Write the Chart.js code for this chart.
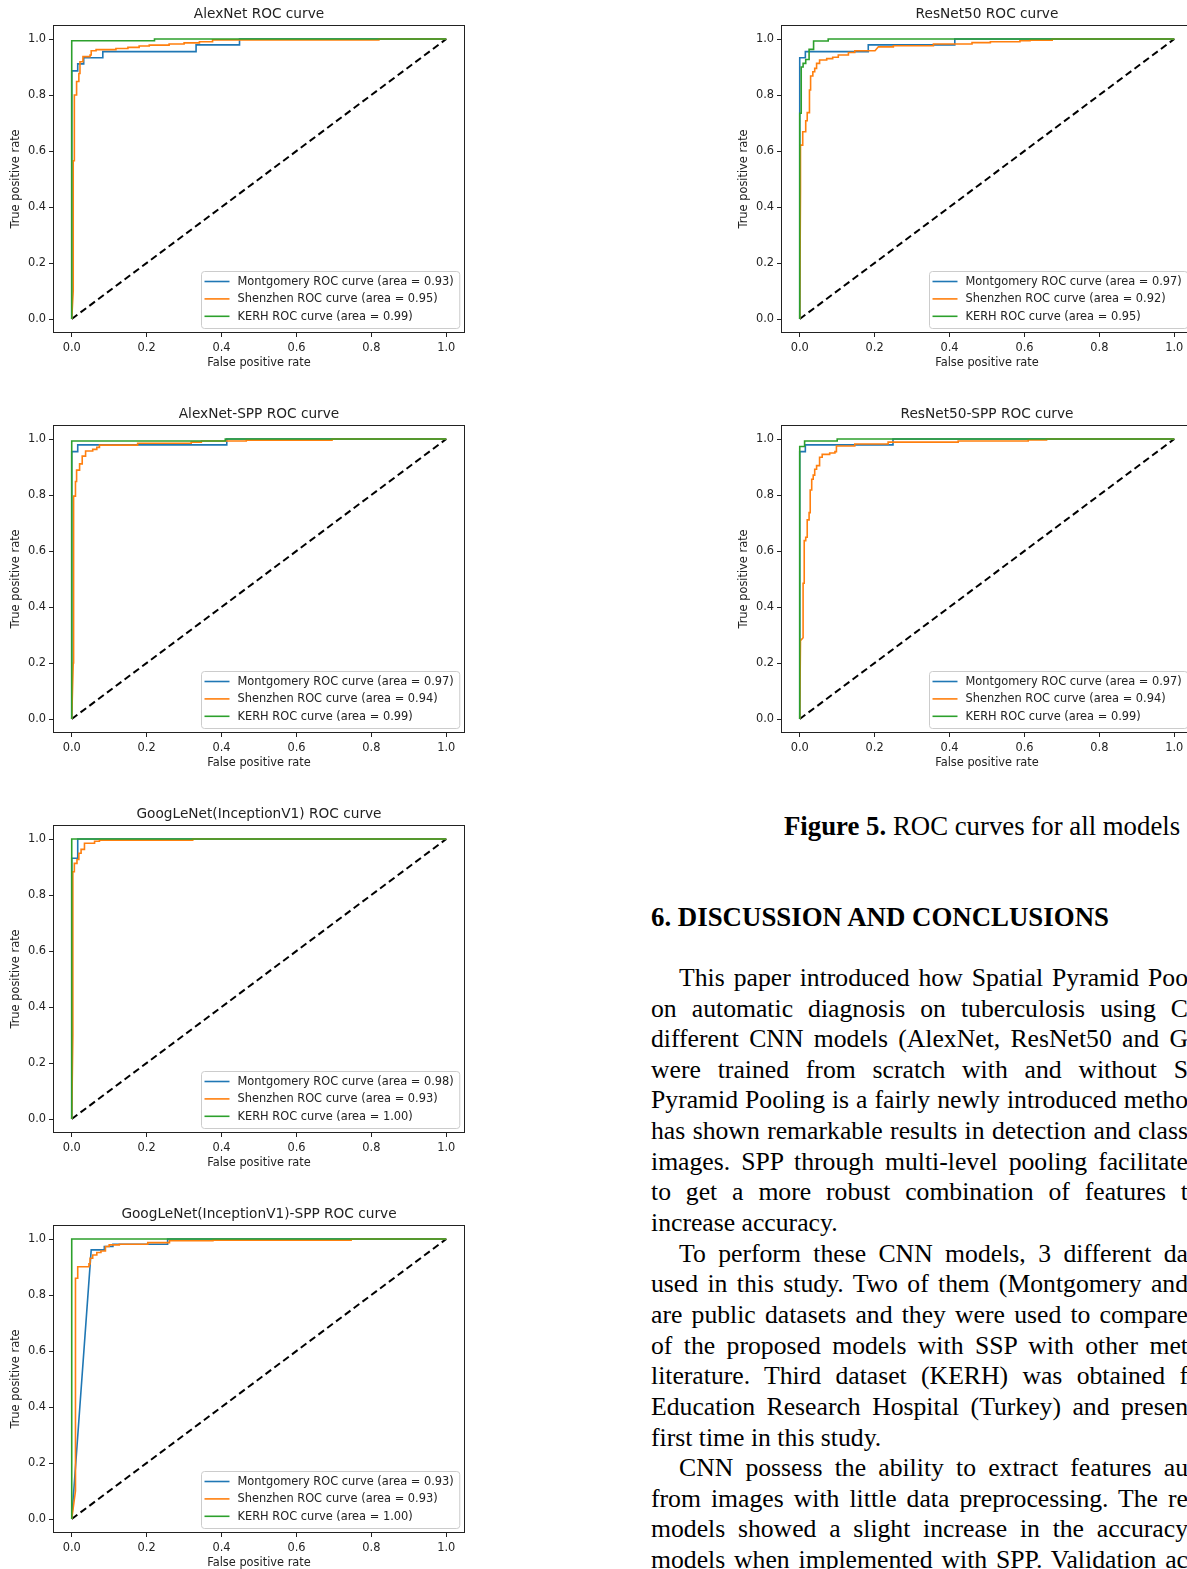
<!DOCTYPE html>
<html>
<head>
<meta charset="utf-8">
<title>ROC curves for all models</title>
<script src="https://cdn.jsdelivr.net/npm/chart.js@4.4.0/dist/chart.umd.min.js"></script>
<style>
  html, body { margin: 0; padding: 0; background: #fff; }
  body { width: 1187px; height: 1569px; overflow: hidden; position: relative; }
  canvas.roc { position: absolute; }
  .serif { position: absolute; font-family: "Liberation Serif", "Times New Roman", serif; color: #000; line-height: 30.65px; white-space: nowrap; }
  #caption { left: 784px; top: 810.8px; font-size: 26.8px; }
  #heading { left: 651px; top: 902px; font-size: 26.85px; font-weight: bold; }
  #body-text { left: 651px; top: 962.9px; font-size: 25.7px; }
  #body-text .ln { height: 30.65px; }
  #body-text .ind { padding-left: 28px; }
</style>
</head>
<body>

<canvas id="c-alexnet" class="roc" width="470" height="375"></canvas>
<canvas id="c-resnet" class="roc" width="470" height="375"></canvas>
<canvas id="c-alexnet-spp" class="roc" width="470" height="375"></canvas>
<canvas id="c-resnet-spp" class="roc" width="470" height="375"></canvas>
<canvas id="c-googlenet" class="roc" width="470" height="375"></canvas>
<canvas id="c-googlenet-spp" class="roc" width="470" height="375"></canvas>

<div id="caption" class="serif"><b>Figure 5.</b> ROC curves for all models</div>
<div id="heading" class="serif">6. DISCUSSION AND CONCLUSIONS</div>

<div id="body-text" class="serif">
  <div class="ln ind j"><span>This paper introduced how Spatial Pyramid Poo</span></div>
  <div class="ln j"><span>on automatic diagnosis on tuberculosis using C</span></div>
  <div class="ln j"><span>different CNN models (AlexNet, ResNet50 and G</span></div>
  <div class="ln j"><span>were trained from scratch with and without S</span></div>
  <div class="ln j"><span>Pyramid Pooling is a fairly newly introduced metho</span></div>
  <div class="ln j"><span>has shown remarkable results in detection and class</span></div>
  <div class="ln j"><span>images. SPP through multi-level pooling facilitate</span></div>
  <div class="ln j"><span>to get a more robust combination of features t</span></div>
  <div class="ln"><span>increase accuracy.</span></div>
  <div class="ln ind j"><span>To perform these CNN models, 3 different da</span></div>
  <div class="ln j"><span>used in this study. Two of them (Montgomery and</span></div>
  <div class="ln j"><span>are public datasets and they were used to compare</span></div>
  <div class="ln j"><span>of the proposed models with SSP with other met</span></div>
  <div class="ln j"><span>literature. Third dataset (KERH) was obtained f</span></div>
  <div class="ln j"><span>Education Research Hospital (Turkey) and presen</span></div>
  <div class="ln"><span>first time in this study.</span></div>
  <div class="ln ind j"><span>CNN possess the ability to extract features au</span></div>
  <div class="ln j"><span>from images with little data preprocessing. The re</span></div>
  <div class="ln j"><span>models showed a slight increase in the accuracy</span></div>
  <div class="ln j"><span>models when implemented with SPP. Validation ac</span></div>
</div>

<script>
// ---- data ----
const tickValues = [0, 0.2, 0.4, 0.6, 0.8, 1.0];
const datasetNames = ['Montgomery', 'Shenzhen', 'KERH'];
const diagonalFpr = [0, 1];
const diagonalTpr = [0, 1];

// AlexNet
const alexnetMontgomeryFpr = [0, 0, 0.016, 0.016, 0.032, 0.032, 0.083, 0.083, 0.332, 0.332, 0.448, 0.448, 1];
const alexnetMontgomeryTpr = [0, 0.886, 0.886, 0.911, 0.911, 0.933, 0.933, 0.955, 0.955, 0.979, 0.979, 1, 1];
const alexnetShenzhenFpr = [0, 0.004, 0.004, 0.007, 0.007, 0.013, 0.013, 0.019, 0.019, 0.022, 0.022, 0.03, 0.03, 0.049, 0.049, 0.052, 0.052, 0.065, 0.065, 0.118, 0.118, 0.15, 0.15, 0.18, 0.18, 0.207, 0.207, 0.26, 0.26, 0.3, 0.3, 0.341, 0.341, 0.376, 0.376, 0.82, 0.82, 1];
const alexnetShenzhenTpr = [0, 0.1, 0.565, 0.565, 0.8, 0.8, 0.848, 0.848, 0.877, 0.877, 0.919, 0.919, 0.937, 0.937, 0.943, 0.943, 0.958, 0.958, 0.962, 0.962, 0.966, 0.966, 0.97, 0.97, 0.975, 0.975, 0.978, 0.978, 0.982, 0.982, 0.986, 0.986, 0.99, 0.99, 0.997, 0.997, 1, 1];
const alexnetKerhFpr = [0, 0, 0.221, 0.221, 1];
const alexnetKerhTpr = [0, 0.994, 0.994, 1, 1];
const alexnetAuc = [0.93, 0.95, 0.99];

// ResNet50
const resnetMontgomeryFpr = [0, 0, 0.015, 0.015, 0.183, 0.183, 0.414, 0.414, 1];
const resnetMontgomeryTpr = [0, 0.933, 0.933, 0.955, 0.955, 0.979, 0.979, 1, 1];
const resnetShenzhenFpr = [0, 0.002, 0.002, 0.008, 0.008, 0.016, 0.016, 0.02, 0.02, 0.026, 0.026, 0.029, 0.029, 0.035, 0.035, 0.04, 0.04, 0.045, 0.045, 0.053, 0.053, 0.072, 0.072, 0.088, 0.088, 0.103, 0.103, 0.13, 0.13, 0.147, 0.147, 0.201, 0.21, 0.25, 0.25, 0.357, 0.357, 0.46, 0.46, 0.509, 0.509, 0.588, 0.588, 0.615, 0.615, 0.674, 0.674, 1];
const resnetShenzhenTpr = [0, 0.46, 0.621, 0.621, 0.669, 0.669, 0.708, 0.708, 0.737, 0.737, 0.818, 0.818, 0.868, 0.868, 0.883, 0.883, 0.895, 0.895, 0.913, 0.913, 0.925, 0.925, 0.93, 0.93, 0.935, 0.935, 0.943, 0.943, 0.952, 0.952, 0.958, 0.958, 0.972, 0.972, 0.976, 0.976, 0.982, 0.982, 0.987, 0.987, 0.99, 0.99, 0.994, 0.994, 0.996, 0.996, 1, 1];
const resnetKerhFpr = [0, 0, 0.004, 0.004, 0.009, 0.009, 0.016, 0.016, 0.025, 0.025, 0.037, 0.037, 0.076, 0.076, 1];
const resnetKerhTpr = [0, 0.735, 0.735, 0.9, 0.9, 0.913, 0.913, 0.927, 0.927, 0.963, 0.963, 0.993, 0.993, 1, 1];
const resnetAuc = [0.97, 0.92, 0.95];

// AlexNet-SPP
const alexnetSppMontgomeryFpr = [0, 0, 0.016, 0.016, 0.414, 0.414, 1];
const alexnetSppMontgomeryTpr = [0, 0.955, 0.955, 0.979, 0.979, 1, 1];
const alexnetSppShenzhenFpr = [0, 0.004, 0.005, 0.01, 0.01, 0.013, 0.013, 0.021, 0.021, 0.028, 0.028, 0.037, 0.037, 0.056, 0.056, 0.067, 0.067, 0.074, 0.074, 0.176, 0.176, 0.319, 0.319, 0.346, 0.346, 0.466, 0.466, 0.695, 0.695, 1];
const alexnetSppShenzhenTpr = [0, 0.2, 0.796, 0.796, 0.848, 0.848, 0.889, 0.889, 0.911, 0.911, 0.939, 0.939, 0.957, 0.957, 0.963, 0.963, 0.97, 0.97, 0.978, 0.978, 0.985, 0.985, 0.989, 0.989, 0.993, 0.993, 0.996, 0.996, 1, 1];
const alexnetSppKerhFpr = [0, 0, 0.41, 0.41, 1];
const alexnetSppKerhTpr = [0, 0.993, 0.993, 1, 1];
const alexnetSppAuc = [0.97, 0.94, 0.99];

// ResNet50-SPP
const resnetSppMontgomeryFpr = [0, 0, 0.015, 0.015, 0.249, 0.249, 1];
const resnetSppMontgomeryTpr = [0, 0.955, 0.955, 0.979, 0.979, 1, 1];
const resnetSppShenzhenFpr = [0, 0.002, 0.009, 0.009, 0.012, 0.012, 0.016, 0.016, 0.02, 0.02, 0.025, 0.025, 0.028, 0.028, 0.032, 0.032, 0.036, 0.036, 0.04, 0.04, 0.045, 0.045, 0.053, 0.053, 0.06, 0.06, 0.08, 0.08, 0.094, 0.094, 0.098, 0.098, 0.147, 0.147, 0.236, 0.236, 0.423, 0.423, 0.61, 0.61, 0.659, 0.659, 1];
const resnetSppShenzhenTpr = [0, 0.28, 0.29, 0.485, 0.485, 0.637, 0.637, 0.649, 0.649, 0.711, 0.711, 0.737, 0.737, 0.818, 0.818, 0.856, 0.856, 0.871, 0.871, 0.892, 0.892, 0.905, 0.905, 0.935, 0.935, 0.945, 0.945, 0.95, 0.95, 0.955, 0.955, 0.975, 0.975, 0.982, 0.982, 0.989, 0.989, 0.993, 0.993, 0.997, 0.997, 1, 1];
const resnetSppKerhFpr = [0, 0, 0.013, 0.013, 0.1, 0.1, 1];
const resnetSppKerhTpr = [0, 0.973, 0.973, 0.993, 0.993, 1, 1];
const resnetSppAuc = [0.97, 0.94, 0.99];

// GoogLeNet(InceptionV1)
const googlenetMontgomeryFpr = [0, 0, 0.016, 0.016, 1];
const googlenetMontgomeryTpr = [0, 0.931, 0.931, 1, 1];
const googlenetShenzhenFpr = [0, 0.003, 0.003, 0.007, 0.007, 0.014, 0.014, 0.019, 0.019, 0.025, 0.025, 0.034, 0.034, 0.061, 0.061, 0.074, 0.074, 0.323, 0.323, 1];
const googlenetShenzhenTpr = [0, 0.3, 0.883, 0.883, 0.913, 0.913, 0.927, 0.927, 0.949, 0.949, 0.963, 0.963, 0.985, 0.985, 0.992, 0.992, 0.996, 0.996, 1, 1];
const googlenetKerhFpr = [0, 0, 1];
const googlenetKerhTpr = [0, 1, 1];
const googlenetAuc = [0.98, 0.93, 1.00];

// GoogLeNet(InceptionV1)-SPP
const googlenetSppMontgomeryFpr = [0, 0.052, 0.087, 0.087, 0.11, 0.11, 0.256, 0.256, 1];
const googlenetSppMontgomeryTpr = [0, 0.961, 0.961, 0.973, 0.973, 0.981, 0.981, 1, 1];
const googlenetSppShenzhenFpr = [0, 0.01, 0.01, 0.016, 0.016, 0.046, 0.046, 0.049, 0.049, 0.056, 0.056, 0.067, 0.067, 0.078, 0.078, 0.09, 0.09, 0.1, 0.1, 0.127, 0.127, 0.203, 0.203, 0.261, 0.261, 0.377, 0.377, 0.746, 0.746, 1];
const googlenetSppShenzhenTpr = [0, 0.1, 0.86, 0.86, 0.901, 0.901, 0.911, 0.911, 0.931, 0.931, 0.943, 0.943, 0.952, 0.952, 0.957, 0.957, 0.973, 0.973, 0.979, 0.979, 0.981, 0.981, 0.987, 0.987, 0.994, 0.994, 0.996, 0.996, 1, 1];
const googlenetSppKerhFpr = [0, 0, 1];
const googlenetSppKerhTpr = [0, 1, 1];
const googlenetSppAuc = [0.93, 0.93, 1.00];

// ---- layout / style ----
const curveColors = ['#1f77b4', '#ff7f0e', '#2ca02c'];
const drawOrder = [2, 1, 0]; // green on top, then orange, then blue
const textColor = '#222';
const fontFamily = '"DejaVu Sans", sans-serif';

const panels = [
  { id: 'c-alexnet', left: 0, top: 0, title: 'AlexNet ROC curve',
    curves: [[alexnetMontgomeryFpr, alexnetMontgomeryTpr], [alexnetShenzhenFpr, alexnetShenzhenTpr], [alexnetKerhFpr, alexnetKerhTpr]], auc: alexnetAuc },
  { id: 'c-resnet', left: 728, top: 0, title: 'ResNet50 ROC curve',
    curves: [[resnetMontgomeryFpr, resnetMontgomeryTpr], [resnetShenzhenFpr, resnetShenzhenTpr], [resnetKerhFpr, resnetKerhTpr]], auc: resnetAuc },
  { id: 'c-alexnet-spp', left: 0, top: 400, title: 'AlexNet-SPP ROC curve',
    curves: [[alexnetSppMontgomeryFpr, alexnetSppMontgomeryTpr], [alexnetSppShenzhenFpr, alexnetSppShenzhenTpr], [alexnetSppKerhFpr, alexnetSppKerhTpr]], auc: alexnetSppAuc },
  { id: 'c-resnet-spp', left: 728, top: 400, title: 'ResNet50-SPP ROC curve',
    curves: [[resnetSppMontgomeryFpr, resnetSppMontgomeryTpr], [resnetSppShenzhenFpr, resnetSppShenzhenTpr], [resnetSppKerhFpr, resnetSppKerhTpr]], auc: resnetSppAuc },
  { id: 'c-googlenet', left: 0, top: 800, title: 'GoogLeNet(InceptionV1) ROC curve',
    curves: [[googlenetMontgomeryFpr, googlenetMontgomeryTpr], [googlenetShenzhenFpr, googlenetShenzhenTpr], [googlenetKerhFpr, googlenetKerhTpr]], auc: googlenetAuc },
  { id: 'c-googlenet-spp', left: 0, top: 1200, title: 'GoogLeNet(InceptionV1)-SPP ROC curve',
    curves: [[googlenetSppMontgomeryFpr, googlenetSppMontgomeryTpr], [googlenetSppShenzhenFpr, googlenetSppShenzhenTpr], [googlenetSppKerhFpr, googlenetSppKerhTpr]], auc: googlenetSppAuc },
];

const toPoints = (fpr, tpr) => fpr.map((x, i) => ({ x: x, y: tpr[i] }));

// matplotlib-like box around the axes plus the legend in the lower right
const boxLegendPlugin = {
  id: 'boxLegend',
  afterDatasetsDraw(chart) {
    const { ctx, chartArea: a } = chart;
    ctx.save();
    ctx.strokeStyle = textColor;
    ctx.lineWidth = 1;
    ctx.strokeRect(Math.round(a.left) + 0.5, Math.round(a.top) + 0.5,
                   Math.round(a.right - a.left) - 1, Math.round(a.bottom - a.top) - 1);

    const items = chart.data.datasets.filter(d => d.label);
    ctx.font = '11.4px ' + fontFamily;
    const textW = Math.max(...items.map(d => ctx.measureText(d.label).width));
    const w = 3 + 25 + 8 + textW + 6;
    const h = 57;
    const x = Math.round(a.right - 6 - w) + 0.5;
    const y = Math.round(a.bottom - 5 - h) + 0.5;
    ctx.beginPath();
    if (ctx.roundRect) ctx.roundRect(x, y, w, h, 3); else ctx.rect(x, y, w, h);
    ctx.fillStyle = 'rgba(255,255,255,0.8)';
    ctx.fill();
    ctx.strokeStyle = '#cccccc';
    ctx.stroke();
    items.forEach((d, i) => {
      const cy = y + 10 + i * 17.4;
      ctx.strokeStyle = d.borderColor;
      ctx.lineWidth = 1.6;
      ctx.beginPath();
      ctx.moveTo(x + 3, cy);
      ctx.lineTo(x + 28, cy);
      ctx.stroke();
      ctx.fillStyle = textColor;
      ctx.textBaseline = 'middle';
      ctx.textAlign = 'left';
      ctx.fillText(d.label, x + 36, cy + 0.5);
    });
    ctx.restore();
  }
};

const tickFont = { family: fontFamily, size: 11.4 };

panels.forEach(p => {
  const canvas = document.getElementById(p.id);
  canvas.style.left = p.left + 'px';
  canvas.style.top = p.top + 'px';

  const datasets = p.curves.map((c, i) => ({
    label: datasetNames[i] + ' ROC curve (area = ' + p.auc[i].toFixed(2) + ')',
    data: toPoints(c[0], c[1]),
    borderColor: curveColors[i],
    borderWidth: 1.6,
    order: drawOrder[i],
  }));
  datasets.push({
    data: toPoints(diagonalFpr, diagonalTpr),
    borderColor: '#000',
    borderWidth: 2,
    borderDash: [7, 4],
    order: 3,
  });

  new Chart(canvas, {
    type: 'scatter',
    data: { datasets: datasets },
    options: {
      responsive: false,
      animation: false,
      showLine: true,
      elements: { point: { radius: 0, hoverRadius: 0 }, line: { tension: 0, fill: false } },
      layout: { padding: { left: 0, right: 5, top: 0, bottom: 0 } },
      plugins: {
        legend: { display: false },
        tooltip: { enabled: false },
        title: {
          display: true, text: p.title, fullSize: false, color: textColor,
          font: { family: fontFamily, size: 13.7, weight: 'normal' },
          padding: { top: 6, bottom: 2.56 }
        }
      },
      scales: {
        x: {
          type: 'linear', min: -0.05, max: 1.05,
          afterBuildTicks: s => { s.ticks = tickValues.map(v => ({ value: v })); },
          afterFit: s => { s.height = 42; },
          ticks: { callback: v => v.toFixed(1), color: textColor, font: tickFont, padding: 4.5, maxRotation: 0, autoSkip: false },
          grid: { drawOnChartArea: false, drawTicks: true, tickLength: 4, color: textColor },
          border: { display: false },
          title: { display: true, text: 'False positive rate', color: textColor, font: tickFont, padding: { top: 0, bottom: 5.2 } }
        },
        y: {
          type: 'linear', min: -0.05, max: 1.05,
          afterBuildTicks: s => { s.ticks = tickValues.map(v => ({ value: v })); },
          afterFit: s => { s.width = 53; },
          ticks: { callback: v => v.toFixed(1), color: textColor, font: tickFont, padding: 3, autoSkip: false },
          grid: { drawOnChartArea: false, drawTicks: true, tickLength: 4, color: textColor },
          border: { display: false },
          title: { display: true, text: 'True positive rate', color: textColor, font: tickFont, padding: { top: 9, bottom: 0 } }
        }
      }
    },
    plugins: [boxLegendPlugin]
  });
});

// justify the paper text lines up to the page edge
document.querySelectorAll('#body-text .ln.j').forEach(ln => {
  const span = ln.querySelector('span');
  const target = 537 - (ln.classList.contains('ind') ? 28 : 0);
  const natural = span.getBoundingClientRect().width;
  const spaces = (span.textContent.match(/ /g) || []).length;
  if (natural < target && spaces > 0) {
    span.style.wordSpacing = ((target - natural) / spaces) + 'px';
  }
});
</script>
</body>
</html>
